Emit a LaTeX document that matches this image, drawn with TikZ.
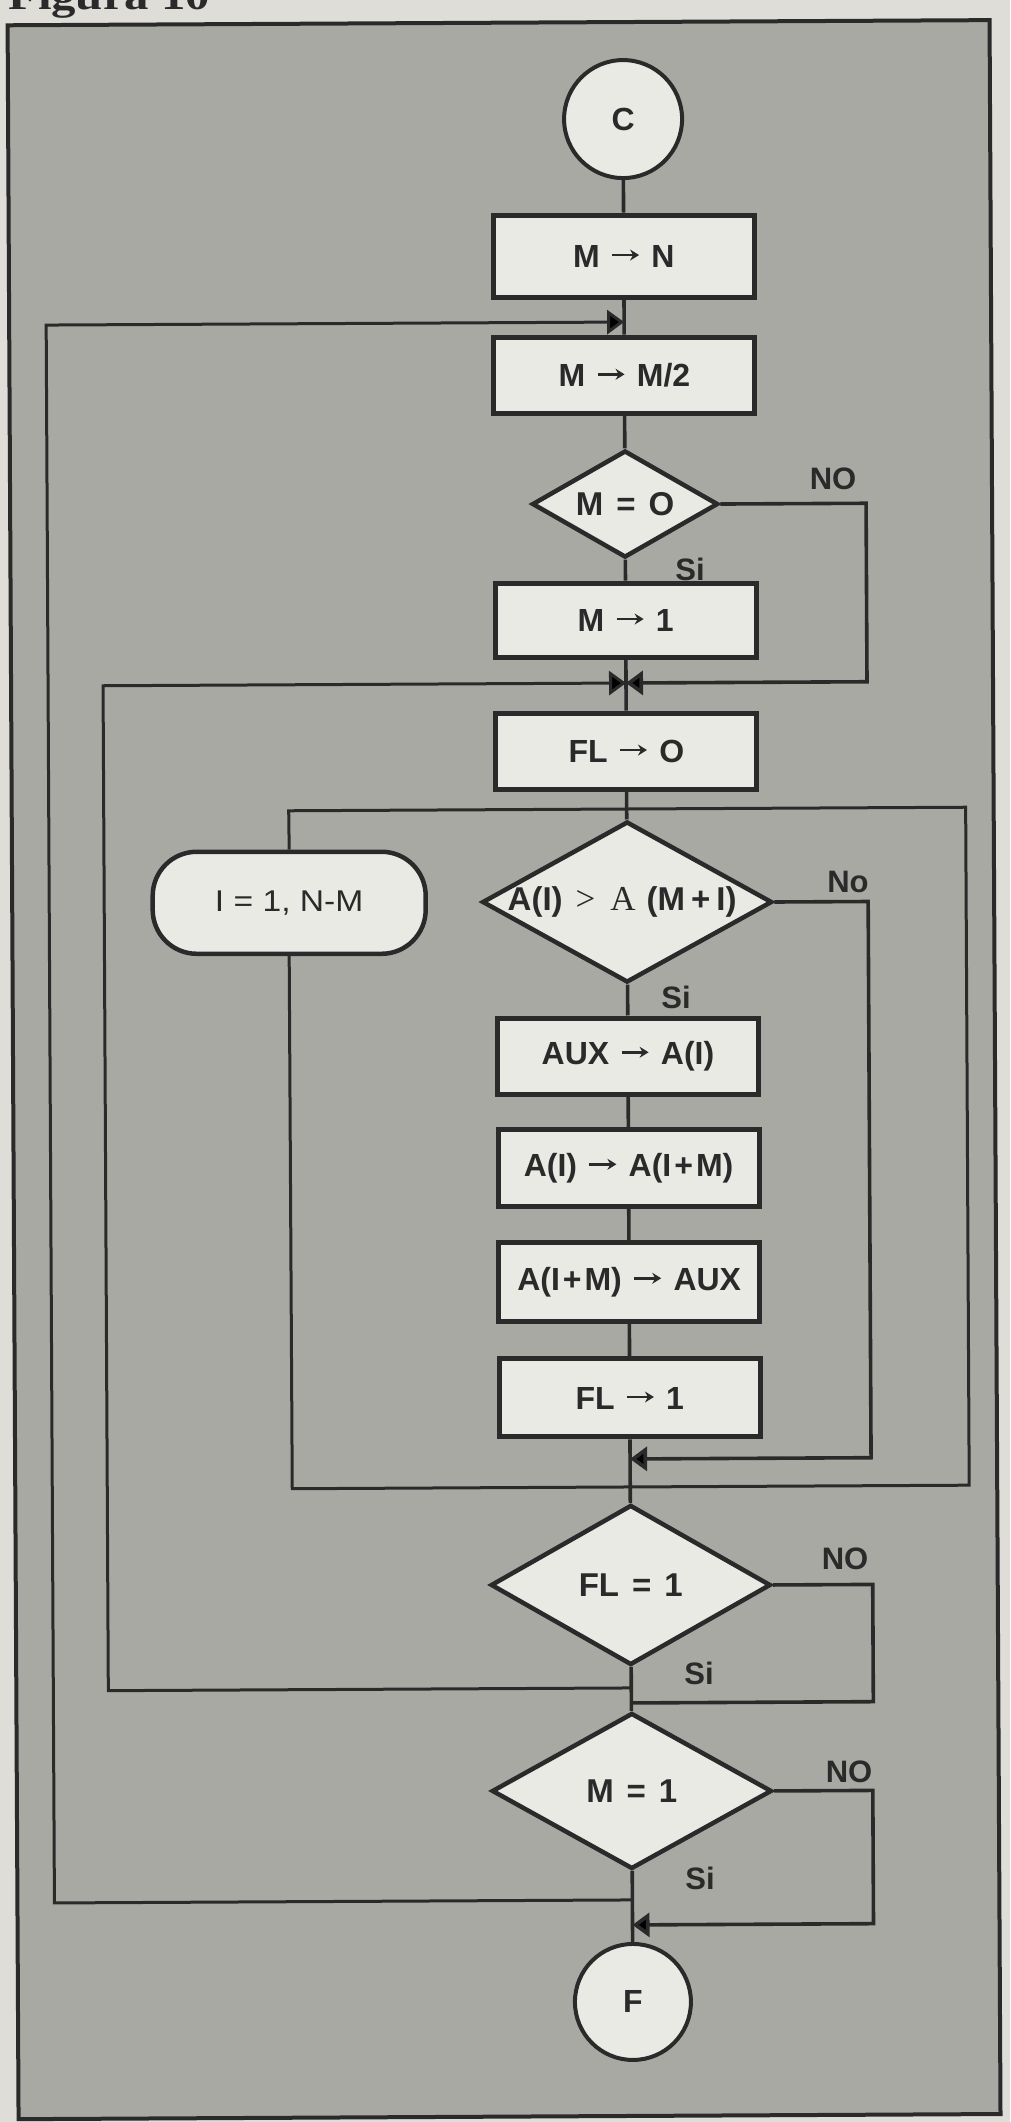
\documentclass[tikz,border=0pt]{standalone}
\usepackage{fontspec}
\setmainfont{Liberation Sans}
\newfontfamily\serifA{Liberation Serif}
\usetikzlibrary{shapes.geometric,arrows.meta}
\definecolor{paper}{HTML}{DEDDD7}
\definecolor{panel}{HTML}{A9A9A4}
\definecolor{boxfill}{HTML}{EAEAE5}
\definecolor{ink}{HTML}{2A2A2A}
\newcommand\ar{\hspace{11pt}\tikz[baseline={(0pt,-12pt)}]\draw[ink,line width=2.6pt,-{Stealth[length=9pt,width=11pt,inset=3pt]}] (0pt,0pt) -- (27pt,0pt);\hspace{11pt}}
\newcommand\eqs{\hspace{13pt}=\hspace{13pt}}
\tikzset{
 conn/.style={draw=ink, line width=3.6pt},
 tip/.style={-{Triangle[length=17pt,width=24pt]}},
 box/.style={rectangle, draw=ink, fill=boxfill, line width=5pt, minimum width=261pt, minimum height=78pt, inner sep=0pt, text=ink, font=\fontsize{32}{36}\selectfont\bfseries},
 dec/.style={diamond, draw=ink, fill=boxfill, line width=4.5pt, inner sep=0pt},
 dtext/.style={text=ink, font=\fontsize{33}{36}\selectfont\bfseries, inner sep=0pt},
 term/.style={circle, draw=ink, fill=boxfill, line width=4pt, minimum size=118pt, inner sep=0pt, text=ink, font=\fontsize{32}{36}\selectfont\bfseries},
 lbl/.style={text=ink, font=\fontsize{31}{36}\selectfont\bfseries, inner sep=0pt},
 loopbox/.style={rectangle, rounded corners=44pt, draw=ink, fill=boxfill, line width=4.5pt, minimum width=273pt, minimum height=102pt, inner sep=0pt, text=ink, font=\fontsize{30}{34}\selectfont}
}
\begin{document}
\begin{tikzpicture}[x=1pt,y=-1pt]
\useasboundingbox (0,0) rectangle (1010,2122);
\fill[paper] (0,0) rectangle (1010,2122);
\node[anchor=base west, inner sep=0pt, text=ink, font=\fontsize{40}{40}\selectfont\serifA\bfseries] (title) at (8,10) {\scalebox{1.22}[1]{Figura 10}};

\begin{scope}[rotate around={0.3:(628,1060)}]
\draw[ink, line width=4pt, fill=panel] (13,22) rectangle (995,2116);

% nodes
\node[term] (c) at (628,119) {C};
\node[box, minimum height=82pt] (mn) at (628,256) {M\ar N};
\node[box, minimum height=76pt] (mm2) at (628,375) {M\ar M/2};
\node[dec, minimum width=186pt, minimum height=107pt] (d1) at (628,504) {};
\node[dtext] (d1t) at (d1) {M\eqs O};
\node[box, minimum height=74pt] (m1) at (628,620) {M\ar 1};
\node[box, minimum height=76pt] (fl0) at (628,751) {FL\ar O};
\node[loopbox] (loop) at (290,901) {\scalebox{1.12}[1]{I = 1, N-M}};
\node[dec, minimum width=290pt, minimum height=161pt] (d2) at (628,902) {};
\node[dtext] (d2t) at (623,902) {A(I)\hspace{13pt}{\serifA\mdseries\fontsize{35}{36}\selectfont >}\hspace{15pt}{\serifA\mdseries\fontsize{35}{36}\selectfont A}\hspace{11pt}(M\hspace{6pt}+\hspace{6pt}I)};
\node[box, minimum height=76pt] (aux) at (628,1056) {AUX\ar A(I)};
\node[box, minimum height=77pt] (swap) at (628,1168) {A(I)\ar A(I\hspace{3pt}+\hspace{3pt}M)};
\node[box, minimum height=79pt] (back) at (628,1282) {A(I\hspace{3pt}+\hspace{3pt}M)\ar AUX};
\node[box, minimum height=78pt] (fl1) at (628,1398) {FL\ar 1};
\node[dec, minimum width=280pt, minimum height=160pt] (d3) at (628,1585) {};
\node[dtext] (d3t) at (d3) {FL\eqs 1};
\node[dec, minimum width=280pt, minimum height=156pt] (d4) at (628,1791) {};
\node[dtext] (d4t) at (d4) {M\eqs 1};
\node[term, minimum size=116pt] (f) at (628,2002) {F};

% junction coordinates
\coordinate (j0) at (628,322);
\coordinate (r1t) at (50,322);
\coordinate (r1b) at (50,1900);
\coordinate (j5) at (628,1900);
\coordinate (j1) at (628,683);
\coordinate (no1) at (869,683);
\coordinate (r2t) at (105,683);
\coordinate (r2b) at (105,1688);
\coordinate (j3) at (628,1688);
\coordinate (lt) at (290,809);
\coordinate (rt) at (967,809);
\coordinate (rb) at (967,1487);
\coordinate (lb) at (290,1487);
\coordinate (j2) at (628,1459);
\coordinate (no2) at (869,1459);
\coordinate (j4) at (628,1703);
\coordinate (no3) at (870,1703);
\coordinate (j6) at (628,1925);
\coordinate (no4) at (869,1925);

% main column
\draw[conn] (c) -- (mn);
\draw[conn] (mn) -- (mm2);
\draw[conn] (mm2) -- (d1);
\draw[conn] (d1) -- (m1);
\draw[conn] (m1) -- (fl0);
\draw[conn] (fl0) -- (d2);
\draw[conn] (d2) -- (aux);
\draw[conn] (aux) -- (swap);
\draw[conn] (swap) -- (back);
\draw[conn] (back) -- (fl1);
\draw[conn] (fl1) -- (d3);
\draw[conn] (d3) -- (d4);
\draw[conn] (d4) -- (f);

% loop frame
\draw[conn, line width=3pt] (loop.north) -- (lt) -- (rt) -- (rb) -- (lb) -- (loop.south);

% branches
\draw[conn, tip] (d1.east) -| (no1) -- (j1);
\draw[conn, tip, line width=3pt] (j3) -- (r2b) -- (r2t) -- (j1);
\draw[conn, tip] (d2.east) -| (no2) -- (j2);
\draw[conn] (d3.east) -| (no3) -- (j4);
\draw[conn, tip] (d4.east) -| (no4) -- (j6);
\draw[conn, tip, line width=3pt] (j5) -- (r1b) -- (r1t) -- (j0);
\end{scope}

% labels
\node[lbl] (l1) at (833,479) {NO};
\node[lbl] (l2) at (690,569) {Si};
\node[lbl] (l3) at (848,882) {No};
\node[lbl] (l4) at (676,997) {Si};
\node[lbl] (l5) at (845,1559) {NO};
\node[lbl] (l6) at (699,1673) {Si};
\node[lbl] (l7) at (849,1772) {NO};
\node[lbl] (l8) at (700,1878) {Si};
\end{tikzpicture}
\end{document}
